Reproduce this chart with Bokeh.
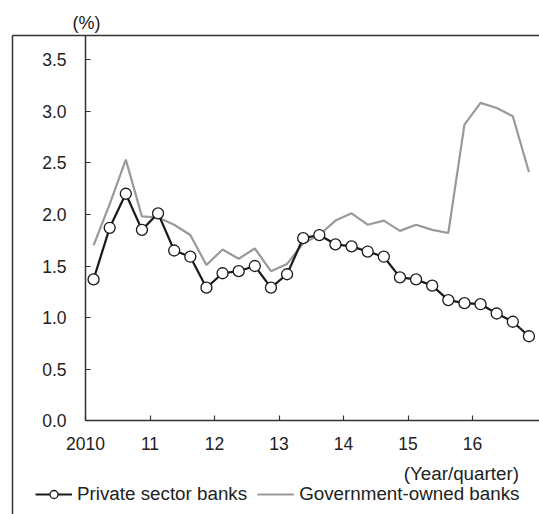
from bokeh.plotting import figure
from bokeh.models import (Range1d, FixedTicker, Legend, LegendItem, Label, Title,
                          LinearAxis, NumeralTickFormatter, ColumnDataSource)
from bokeh.embed import file_html
from bokeh.resources import INLINE

# ---- data ----
years = [2010, 2011, 2012, 2013, 2014, 2015, 2016]
year_labels = ["2010", "11", "12", "13", "14", "15", "16"]
quarters = [1, 2, 3, 4]
private = [1.37, 1.87, 2.20, 1.85,
           2.01, 1.65, 1.59, 1.29,
           1.43, 1.45, 1.50, 1.29,
           1.42, 1.77, 1.80, 1.71,
           1.69, 1.64, 1.59, 1.39,
           1.37, 1.31, 1.17, 1.14,
           1.13, 1.04, 0.96, 0.82]
government = [1.70, 2.10, 2.53, 1.98,
              1.97, 1.90, 1.80, 1.51,
              1.66, 1.57, 1.67, 1.45,
              1.52, 1.72, 1.80, 1.94,
              2.01, 1.90, 1.94, 1.84,
              1.90, 1.85, 1.82, 2.87,
              3.08, 3.03, 2.95, 2.41]
y_ticks = [0.0, 0.5, 1.0, 1.5, 2.0, 2.5, 3.0, 3.5]

# quarter mid-points on a continuous year axis
xq = [y + (q - 0.5) / 4 for y in years for q in quarters]
src = ColumnDataSource(dict(x=xq, private=private, government=government))

FONT = "Liberation Sans"
TXT = "#222222"
DARK = "#333333"
TICK_FS = "17.5px"
TEXT_FS = "18.8px"

# layout: outer box from (12,35) to the page edge; axes drawn inside it
W, H = 539, 514
BOX_L, BOX_T = 12, 35
X0_PX, PX_YEAR = 85, 64.5      # where 2010 sits, px per year
Y0_PX, PX_UNIT = 420.4, 103.26  # where 0.0 sits, px per unit
x_start = years[0] - (X0_PX - BOX_L) / PX_YEAR
x_end = x_start + (W - BOX_L) / PX_YEAR
y_end = (Y0_PX - BOX_T) / PX_UNIT
y_start = -(H - Y0_PX) / PX_UNIT

p = figure(width=W, height=H, output_backend="svg", toolbar_location=None,
           x_range=Range1d(x_start, x_end), y_range=Range1d(y_start, y_end),
           min_border_left=BOX_L, min_border_right=0, min_border_top=BOX_T,
           min_border_bottom=0)
p.outline_line_color = None
p.grid.visible = False
p.background_fill_color = "white"
p.border_fill_color = "white"

# data axes, placed inside the box
xa, ya = p.xaxis[0], p.yaxis[0]
for ax in (xa, ya):
    ax.axis_line_color = DARK
    ax.axis_line_width = 1.5
    ax.major_tick_line_color = DARK
    ax.major_tick_line_width = 1.2
    ax.major_tick_in = 5
    ax.major_tick_out = 0
    ax.minor_tick_line_color = None
    ax.major_label_text_font = FONT
    ax.major_label_text_font_size = TICK_FS
    ax.major_label_text_color = TXT

xa.ticker = FixedTicker(ticks=years)
xa.major_label_overrides = {y: l for y, l in zip(years, year_labels)}
xa.major_label_standoff = 16
xa.fixed_location = 0
xa.bounds = (years[0], x_end)
ya.ticker = FixedTicker(ticks=y_ticks)
ya.formatter = NumeralTickFormatter(format="0.0")
ya.major_label_standoff = 19
ya.fixed_location = years[0]
ya.bounds = (0, y_end)

# box lines (top and left) as plain axes on the frame edges
for side in ("above", "left"):
    bx = LinearAxis(ticker=FixedTicker(ticks=[]), axis_line_color=DARK,
                    axis_line_width=1.5, major_tick_line_color=None,
                    minor_tick_line_color=None, major_tick_in=0, major_tick_out=0,
                    minor_tick_in=0, minor_tick_out=0, major_label_standoff=0,
                    major_label_text_font_size="0px")
    p.add_layout(bx, side)

# series
r_gov = p.line("x", "government", source=src, line_color="#999999", line_width=2.2)
r_priv_line = p.line("x", "private", source=src, line_color="#1a1a1a", line_width=2.2)
r_priv_pts = p.scatter("x", "private", source=src, marker="circle", size=11,
                       fill_color="white", line_color="#1a1a1a", line_width=1.3)

# texts
p.add_layout(Title(text="(%)", align="left", offset=60, standoff=6,
                   text_font=FONT, text_font_size="18px", text_font_style="normal",
                   text_color=TXT), "above")
p.add_layout(Label(x=2016.72, y=-0.507, text="(Year/quarter)",
                   text_align="right", text_baseline="middle",
                   text_font=FONT, text_font_size=TEXT_FS, text_color=TXT))

legend = Legend(items=[
    LegendItem(label="Private sector banks", renderers=[r_priv_line, r_priv_pts]),
    LegendItem(label="Government-owned banks", renderers=[r_gov]),
], orientation="horizontal", location=(23, 9),
    glyph_width=37, glyph_height=20, label_height=20, label_standoff=5,
    spacing=10, padding=0, margin=0, border_line_color=None,
    background_fill_alpha=0,
    label_text_font=FONT, label_text_font_size=TEXT_FS, label_text_color=TXT)
p.add_layout(legend, "center")

open("out.html", "w").write(file_html(p, INLINE))
